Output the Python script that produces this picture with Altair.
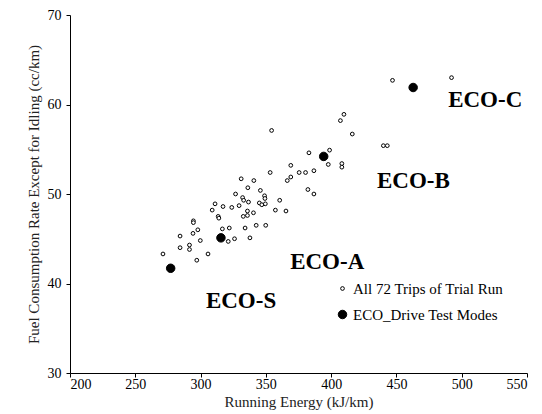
import altair as alt
import pandas as pd

FONT = "Liberation Serif"

series_names = ["All 72 Trips of Trial Run", "ECO_Drive Test Modes"]

trip_x = [447.0, 492.2, 407.1, 409.8, 416.2, 440.0, 443.0, 354.4, 383.0, 398.8,
          397.8, 408.2, 408.2, 369.1, 375.5, 380.4, 386.8, 353.3, 369.1, 366.4,
          331.1, 340.8, 382.2, 386.8, 336.2, 345.8, 326.8, 332.2, 333.0, 336.7,
          329.5, 323.9, 317.2, 311.1, 308.9, 345.0, 346.9, 349.6, 360.6, 357.3,
          365.4, 335.9, 340.5, 335.9, 332.7, 294.5, 294.5, 297.9, 294.2, 316.7,
          322.0, 334.1, 342.6, 349.9, 284.3, 299.8, 326.0, 321.2, 337.8, 291.5,
          291.5, 284.3, 271.2, 305.7, 297.1, 313.5, 314.0, 349.0, 349.3]
trip_y = [62.7, 63.0, 58.2, 58.9, 56.7, 55.4, 55.4, 57.1, 54.6, 54.9,
          53.3, 53.4, 53.0, 53.2, 52.4, 52.4, 52.6, 52.4, 51.9, 51.5,
          51.7, 51.5, 50.5, 50.0, 50.7, 50.4, 50.0, 49.6, 49.3, 49.1,
          48.7, 48.5, 48.6, 48.9, 48.2, 49.0, 48.8, 48.9, 49.3, 48.2,
          48.1, 48.1, 47.9, 47.6, 47.5, 47.0, 46.8, 46.0, 45.6, 46.1,
          46.2, 46.2, 46.5, 46.5, 45.3, 44.8, 45.0, 44.7, 45.1, 44.3,
          43.8, 44.0, 43.3, 43.3, 42.6, 47.5, 47.3, 49.8, 49.5]

mode_x = [277.1, 315.6, 394.3, 462.8]
mode_y = [41.7, 45.1, 54.2, 61.9]

label_text = ["ECO-S", "ECO-A", "ECO-B", "ECO-C"]
label_x = [331.0, 397.0, 463.0, 518.0]
label_y = [38.0, 42.4, 51.5, 60.5]

x_ticks = [200, 250, 300, 350, 400, 450, 500, 550]
y_ticks = [30, 40, 50, 60, 70]

pts = pd.DataFrame({
    "x": trip_x + mode_x,
    "y": trip_y + mode_y,
    "series": [series_names[0]] * len(trip_x) + [series_names[1]] * len(mode_x),
})
labels = pd.DataFrame({"x": label_x, "y": label_y, "t": label_text})

x_scale = alt.Scale(domain=[200, 550], nice=False, zero=False)
y_scale = alt.Scale(domain=[30, 70], nice=False, zero=False)

x_axis = alt.Axis(values=x_ticks, title="Running Energy (kJ/km)", grid=False,
                  tickSize=4, labelPadding=0, titlePadding=3)
y_axis = alt.Axis(values=y_ticks, title="Fuel Consumption Rate Except for Idling (cc/km)",
                  grid=False, tickSize=4, labelPadding=5, titlePadding=6)

legend = alt.Legend(title=None, orient="none", legendX=265, legendY=266,
                    labelFont=FONT, labelFontSize=15, labelColor="black",
                    symbolType="circle", symbolStrokeWidth=1,
                    rowPadding=10, labelOffset=3, padding=0)

series_scale_dom = series_names

points = alt.Chart(pts).mark_point(shape="circle", filled=True,
                                   strokeWidth=1, opacity=1).encode(
    x=alt.X("x:Q", scale=x_scale, axis=x_axis),
    y=alt.Y("y:Q", scale=y_scale, axis=y_axis),
    fill=alt.Fill("series:N", scale=alt.Scale(domain=series_scale_dom, range=["white", "black"]),
                  legend=legend),
    stroke=alt.Stroke("series:N", scale=alt.Scale(domain=series_scale_dom, range=["black", "black"]),
                      legend=legend),
    size=alt.Size("series:N", scale=alt.Scale(domain=series_scale_dom, range=[14, 72]),
                  legend=legend),
)

text = alt.Chart(labels).mark_text(font=FONT, fontSize=23, fontWeight="bold",
                                   align="center", baseline="middle", color="black").encode(
    x=alt.X("x:Q", scale=x_scale),
    y=alt.Y("y:Q", scale=y_scale),
    text="t:N",
)

chart = (points + text).properties(
    width=457, height=358,
    autosize=alt.AutoSizeParams(type="none"),
    padding={"left": 62, "top": 7, "right": 7, "bottom": 41},
).configure_view(stroke=None).configure_axis(
    labelFont=FONT, labelFontSize=14, labelColor="black",
    titleFont=FONT, titleFontSize=15, titleFontWeight="normal", titleColor="#222222",
    domainColor="black", tickColor="black", domainWidth=1, tickWidth=1,
)

chart.save("out.html", embed_options={"renderer": "svg", "actions": False})
